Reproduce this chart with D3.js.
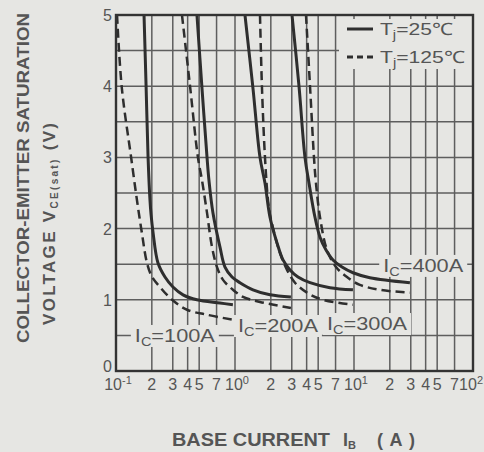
<!DOCTYPE html>
<html><head><meta charset="utf-8">
<script src="https://cdn.jsdelivr.net/npm/d3@7"></script>
<style>
html,body{margin:0;padding:0;background:#e6e6e3;}
svg{display:block;}
</style></head>
<body>
<script>
// ---- data (IB in A, VCE(sat) in V) ----
const ic100_25C  = [[0.172,5.0],[0.179,4.0],[0.186,3.0],[0.193,2.4],[0.197,2.2],[0.205,1.94],[0.225,1.52],[0.258,1.32],[0.301,1.18],[0.366,1.07],[0.479,1.0],[0.748,0.955],[0.96,0.93]];
const ic100_125C = [[0.102,5.0],[0.112,3.97],[0.134,3.0],[0.150,2.4],[0.165,1.94],[0.182,1.52],[0.201,1.32],[0.234,1.18],[0.296,1.0],[0.395,0.86],[0.582,0.79],[0.96,0.72]];
const ic200_25C  = [[0.479,5.0],[0.528,3.97],[0.582,3.0],[0.604,2.68],[0.653,2.22],[0.748,1.74],[0.824,1.46],[0.944,1.32],[1.10,1.24],[1.416,1.14],[1.968,1.07],[2.95,1.04]];
const ic200_125C = [[0.3585,5.0],[0.419,4.0],[0.488,3.0],[0.528,2.68],[0.582,2.22],[0.641,1.74],[0.706,1.46],[0.793,1.28],[0.962,1.14],[1.168,1.04],[1.622,0.97],[2.95,0.885]];
const ic300_25C  = [[1.213,5.0],[1.416,3.97],[1.622,3.0],[1.786,2.64],[1.968,2.16],[2.254,1.8],[2.531,1.56],[2.90,1.42],[3.384,1.32],[4.27,1.24],[6.28,1.17],[9.8,1.14]];
const ic300_125C = [[1.622,5.0],[1.686,3.97],[1.786,3.0],[1.893,2.4],[1.988,2.16],[2.343,1.70],[2.736,1.42],[3.192,1.24],[4.027,1.10],[5.49,1.0],[9.8,0.93]];
const ic400_25C  = [[3.013,5.0],[3.45,4.0],[3.873,3.0],[4.186,2.64],[4.70,2.16],[5.18,1.88],[5.82,1.70],[6.66,1.56],[7.93,1.46],[9.81,1.38],[13.6,1.31],[29.5,1.24]];
const ic400_125C = [[3.95,5.0],[4.27,4.0],[4.61,3.0],[4.79,2.64],[5.18,2.16],[5.93,1.70],[7.06,1.46],[8.73,1.32],[11.2,1.21],[16.5,1.14],[29.5,1.10]];

const xMantissas = [1,2,3,4,5,7];
const xDecades   = [-1,0,1];
const yTicks     = [0,1,2,3,4,5];
const yGrid      = [0.5,1,1.5,2,2.5,3,3.5,4,4.5];
const curveLabels = [
  {ic:"100A", ib:0.144, v:0.506},
  {ic:"200A", ib:1.058, v:0.646},
  {ic:"300A", ib:5.93,  v:0.674},
  {ic:"400A", ib:17.6,  v:1.49}
];
const legendItems = [{label:"25℃", dash:null},{label:"125℃", dash:"6,4"}];

// ---- chart ----
const W=484,H=452;
const L=116,R=473,T=15,B=371;
const bg="#e6e6e3";
const x=d3.scaleLog().domain([0.1,100]).range([L,R]);
const y=d3.scaleLinear().domain([0,5]).range([B,T]);
const ink="#2e2e2e", gridC="#5e5e5e", textC="#555";
const tf="Liberation Sans, Arial, sans-serif";
const svg=d3.select("body").append("svg").attr("width",W).attr("height",H);
svg.append("rect").attr("width",W).attr("height",H).attr("fill",bg);
svg.append("defs").append("clipPath").attr("id","clip")
  .append("rect").attr("x",L).attr("y",T).attr("width",R-L).attr("height",B-T);

// grid
const xGridVals=[];
xDecades.forEach(k=>xMantissas.forEach(m=>xGridVals.push(m*Math.pow(10,k))));
xGridVals.push(100);
svg.append("g").selectAll("line").data(xGridVals).join("line")
  .attr("x1",d=>x(d)).attr("x2",d=>x(d)).attr("y1",T).attr("y2",B)
  .attr("stroke",gridC).attr("stroke-width",1.5);
svg.append("g").selectAll("line").data(yGrid).join("line")
  .attr("x1",L).attr("x2",R).attr("y1",d=>y(d)).attr("y2",d=>y(d))
  .attr("stroke",gridC).attr("stroke-width",1.5);

// legend
const lg=svg.append("g");
lg.append("rect").attr("x",339).attr("y",T+4).attr("width",R-339-1).attr("height",50).attr("fill",bg);
legendItems.forEach((it,i)=>{
  const yy=29+i*28;
  lg.append("line").attr("x1",347).attr("x2",373).attr("y1",yy).attr("y2",yy)
    .attr("stroke",ink).attr("stroke-width",3).attr("stroke-dasharray",it.dash);
  const t=lg.append("text").attr("x",380).attr("y",yy+6).attr("fill",textC)
    .attr("font-family",tf).attr("font-size",17)
    .attr("textLength",i===0?73:85).attr("lengthAdjust","spacingAndGlyphs");
  t.append("tspan").text("T");
  t.append("tspan").attr("font-size",12).attr("dy",4).text("j");
  t.append("tspan").attr("dy",-4).text("="+it.label);
});

// curve labels with background
const labG=svg.append("g");
curveLabels.forEach(c=>{
  const cx=x(c.ib), cy=y(c.v);
  labG.append("rect").attr("x",cx-4).attr("y",cy-10).attr("width",88).attr("height",22).attr("fill",bg);
  const t=labG.append("text").attr("x",cx).attr("y",cy+7).attr("fill",textC)
    .attr("font-family",tf).attr("font-size",18)
    .attr("textLength",80).attr("lengthAdjust","spacingAndGlyphs");
  t.append("tspan").text("I");
  t.append("tspan").attr("font-size",12).attr("dy",4).text("C");
  t.append("tspan").attr("dy",-4).text("="+c.ic);
});

// curves
const line=d3.line().x(d=>x(d[0])).y(d=>y(d[1])).curve(d3.curveCatmullRom.alpha(0.5));
const cg=svg.append("g").attr("clip-path","url(#clip)");
[ic100_25C,ic200_25C,ic300_25C,ic400_25C].forEach(s=>{
  cg.append("path").attr("d",line(s)).attr("fill","none").attr("stroke",ink).attr("stroke-width",3);
});
[ic100_125C,ic200_125C,ic300_125C,ic400_125C].forEach(s=>{
  cg.append("path").attr("d",line(s)).attr("fill","none").attr("stroke",ink).attr("stroke-width",2.5)
    .attr("stroke-dasharray","9,5");
});

// frame
svg.append("rect").attr("x",L).attr("y",T).attr("width",R-L).attr("height",B-T)
  .attr("fill","none").attr("stroke","#333").attr("stroke-width",2.4);

// y tick labels
svg.append("g").selectAll("text").data(yTicks).join("text")
  .attr("x",112).attr("y",d=>y(d)+(d===0?1:6)).attr("text-anchor","end")
  .attr("fill",textC).attr("font-family",tf).attr("font-size",16)
  .text(d=>d);

// x tick labels
const xl=svg.append("g").attr("fill",textC).attr("font-family",tf).attr("font-size",16);
xDecades.concat([2]).forEach(k=>{
  const last=k===2;
  const t=xl.append("text").attr("x",last?483:x(Math.pow(10,k))+2).attr("y",390)
    .attr("text-anchor",last?"end":"middle");
  t.append("tspan").text("10");
  t.append("tspan").attr("font-size",11).attr("dy",-6).text(k);
});
xDecades.forEach(k=>{
  xMantissas.filter(m=>m>1).forEach(m=>{
    xl.append("text").attr("x",x(m*Math.pow(10,k))).attr("y",390).attr("text-anchor","middle").text(m);
  });
});

// axis titles
const xtg=svg.append("g").attr("fill",textC).attr("font-family",tf).attr("font-size",18).attr("font-weight","bold");
xtg.append("text").attr("x",172).attr("y",446).attr("textLength",158).attr("lengthAdjust","spacingAndGlyphs").text("BASE CURRENT");
const ib=xtg.append("text").attr("x",343).attr("y",446);
ib.append("tspan").text("I");
ib.append("tspan").attr("font-size",11).attr("dy",3).text("B");
xtg.append("text").attr("x",377).attr("y",446).attr("textLength",38).attr("lengthAdjust","spacing").text("(A)");

svg.append("text").attr("transform","translate(29,178) rotate(-90)").attr("text-anchor","middle")
  .attr("fill",textC).attr("font-family",tf).attr("font-size",17).attr("font-weight","bold")
  .attr("textLength",330).attr("lengthAdjust","spacingAndGlyphs")
  .text("COLLECTOR-EMITTER SATURATION");
const yt2=svg.append("text").attr("transform","translate(55,224) rotate(-90)").attr("text-anchor","middle")
  .attr("fill",textC).attr("font-family",tf).attr("font-size",17).attr("font-weight","bold")
  .attr("textLength",202).attr("lengthAdjust","spacing");
yt2.append("tspan").text("VOLTAGE  V");
yt2.append("tspan").attr("font-size",10).attr("dy",3).text("CE(sat)");
yt2.append("tspan").attr("dy",-3).text("  (V)");
</script>
</body></html>
